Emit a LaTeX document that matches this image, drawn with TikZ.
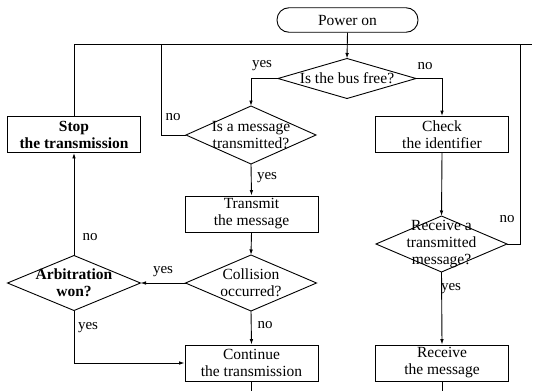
\documentclass[tikz,border=0pt]{standalone}
\usepackage{fontspec}
\setmainfont{Liberation Serif}
\usetikzlibrary{shapes.geometric,arrows.meta}
\begin{document}
\begin{tikzpicture}[x=1pt,y=-1pt,
  font=\fontsize{15.5}{17}\selectfont,
  flow/.style={line width=0.9pt},
  arr/.style={flow,-{Latex[length=5.5pt,width=3.6pt]}},
  box/.style={draw,line width=0.9pt,rectangle,minimum width=133pt,minimum height=36pt,inner sep=0pt,align=center},
  startbox/.style={draw,line width=0.9pt,rectangle,rounded corners=12pt,minimum width=141pt,minimum height=24.5pt,inner sep=0pt},
  dia/.style={draw,line width=0.9pt,diamond,inner sep=0pt,outer sep=0pt},
  heavy/.style={font=\fontsize{15.5}{17}\selectfont\bfseries},
  tag/.style={inner sep=0pt,font=\fontsize{15}{16}\selectfont}]
\useasboundingbox (0,0) rectangle (534,391);

% terminal and decisions
\node[startbox] (pwr) at (347.5,20) {Power on};
\node[dia,minimum width=138pt,minimum height=40pt,label={[align=center]center:Is the bus free?}] (bus) at (347,78.5) {};
\node[dia,minimum width=130pt,minimum height=58pt,label={[align=center]center:Is a message\\transmitted?}] (msg) at (251,135) {};
\node[dia,minimum width=131pt,minimum height=56pt,label={[align=center]center:Collision\\occurred?}] (coll) at (251,283) {};
\node[dia,minimum width=133pt,minimum height=55pt,label={[align=center,heavy]center:Arbitration\\won?}] (arb) at (74,283) {};
\node[dia,minimum width=131pt,minimum height=56pt,label={[align=center]center:Receive a\\transmitted\\message?}] (recv) at (441.5,244) {};

% process boxes
\node[box,heavy] (stop) at (74,134.5) {Stop\\the transmission};
\node[box] (check) at (442,134.5) {Check\\the identifier};
\node[box] (trans) at (251.5,214) {Transmit\\the message};
\node[box] (cont) at (251.5,363) {Continue\\the transmission};
\node[box] (rbox) at (442,363) {Receive\\the message};

% return bus along the top
\coordinate (topL) at (74,44);
\coordinate (topR) at (532,44);
\coordinate (loopM) at (161,44);
\coordinate (loopR) at (520,44);
\coordinate (contEnd) at (251.5,391);
\coordinate (rboxEnd) at (442,391);

\draw[flow] (topL) -- (topR);
\draw[flow] (stop.north) -- (topL);
\draw[flow] (msg.west) -- (loopM |- msg.west) -- (loopM);
\draw[flow] (recv.east) -- (loopR |- recv.east) -- (loopR);

% main flow
\draw[arr] (pwr.south) -- (bus.north);
\draw[arr] (bus.west) -| (msg.north);
\draw[arr] (bus.east) -| (check.north);
\draw[arr] (msg.south) -- (trans.north);
\draw[arr] (trans.south) -- (coll.north);
\draw[arr] (coll.west) -- (arb.east);
\draw[arr] (arb.north) -- (stop.south);
\draw[arr] (arb.south) |- (cont.west);
\draw[arr] (coll.south) -- (cont.north);
\draw[arr] (check.south) -- (recv.north);
\draw[arr] (recv.south) -- (rbox.north);
\draw[flow] (cont.south) -- (contEnd);
\draw[flow] (rbox.south) -- (rboxEnd);

% branch labels
\node[tag] (l1) at (262,66) {yes};
\node[tag] (l2) at (425,66) {no};
\node[tag] (l3) at (173,117) {no};
\node[tag] (l4) at (267,178) {yes};
\node[tag] (l5) at (90,237) {no};
\node[tag] (l6) at (507,219) {no};
\node[tag] (l7) at (163,272) {yes};
\node[tag] (l8) at (88,328) {yes};
\node[tag] (l9) at (265,325) {no};
\node[tag] (l10) at (451,289) {yes};
\end{tikzpicture}
\end{document}
